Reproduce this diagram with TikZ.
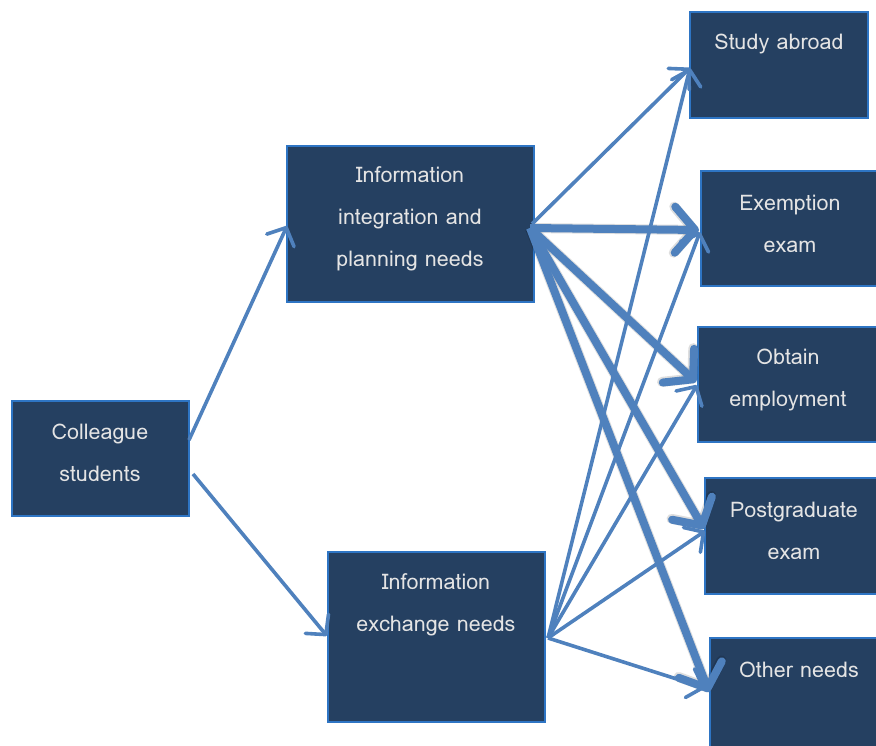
\documentclass[tikz,border=0pt]{standalone}
\usepackage{fontspec}
\setmainfont{Loma}
\usetikzlibrary{arrows.meta}
\definecolor{boxfill}{RGB}{37,64,97}
\definecolor{boxline}{RGB}{46,117,196}
\definecolor{arrowblue}{RGB}{79,129,189}
\definecolor{txtcol}{RGB}{228,228,228}
\begin{document}
\begin{tikzpicture}[x=1pt,y=-1pt,
  box/.style={draw=boxline, line width=1.2pt, fill=boxfill, inner sep=0pt},
  txt/.style={text=txtcol, align=center, font=\fontsize{21.5}{42}\selectfont, inner sep=0pt},
  thinarrow/.style={draw=arrowblue, line width=3.6pt,
    -{Straight Barb[length=14pt,width=30pt,line width=3.6pt,round]}},
  thickarrow/.style={draw=arrowblue, line width=8pt,
    -{Straight Barb[length=20pt,width=46pt,line width=8pt,round]}},
  shadowline/.style={draw=black, line width=10pt, opacity=0.13,
    -{Straight Barb[length=20pt,width=46pt,line width=10pt,round]}}]
\useasboundingbox (0,0) rectangle (876,746);

% boxes
\node[box, minimum width=177pt, minimum height=115pt] (coll)     at (100.5,458.5) {};
\node[box, minimum width=247pt, minimum height=156pt] (integ)    at (410.5,224) {};
\node[box, minimum width=217pt, minimum height=170pt] (exch)     at (436.5,637) {};
\node[box, minimum width=178pt, minimum height=106pt] (abroad)   at (779,65) {};
\node[box, minimum width=177pt, minimum height=115pt] (exempt)   at (789.5,228.5) {};
\node[box, minimum width=179pt, minimum height=115pt] (obtain)   at (787.5,384.5) {};
\node[box, minimum width=173pt, minimum height=116pt] (postgrad) at (791.5,536) {};
\node[box, minimum width=168pt, minimum height=112pt] (other)    at (794,694) {};

% labels
\node[txt] (tcoll)     at (100,453) {Colleague\\students};
\node[txt] (tinteg)    at (410,219) {Information\\integration and\\planning needs};
\node[txt] (texch)     at (436,605) {Information\\exchange needs};
\node[txt] (tabroad)   at (779,44)  {Study abroad};
\node[txt] (texempt)   at (790,224) {Exemption\\exam};
\node[txt] (tobtain)   at (788,380) {Obtain\\employment};
\node[txt] (tpostgrad) at (794,531) {Postgraduate\\exam};
\node[txt] (tother)    at (799,670) {Other needs};

% connector end points
\coordinate (c1) at (189,440);
\coordinate (c2) at (193,474);
\coordinate (i1) at (287,226);
\coordinate (x1) at (327,636);
\coordinate (is) at (532,224);
\coordinate (it) at (530,228);
\coordinate (xs) at (548,638);
\coordinate (a1) at (690,68);
\coordinate (e1) at (699,230);
\coordinate (e2) at (700,232);
\coordinate (o1) at (696,382);
\coordinate (o2) at (697,385);
\coordinate (p1) at (704,529);
\coordinate (p2) at (705,531);
\coordinate (n1) at (709,692);
\coordinate (n2) at (705,688);

% first level
\draw[thinarrow] (c1) -- (i1);
\draw[thinarrow] (c2) -- (x1);

% soft shadows of the heavy connectors
\begin{scope}[shift={(3,5)}]
  \draw[shadowline] (it) -- (e1);
  \draw[shadowline] (it) -- (o1);
  \draw[shadowline] (it) -- (p1);
  \draw[shadowline] (it) -- (n1);
\end{scope}

% from integration and planning needs
\draw[thinarrow] (is) -- (a1);
\draw[thickarrow] (it) -- (e1);
\draw[thickarrow] (it) -- (o1);
\draw[thickarrow] (it) -- (p1);
\draw[thickarrow] (it) -- (n1);

% from exchange needs
\draw[thinarrow] (xs) -- (a1);
\draw[thinarrow] (xs) -- (e2);
\draw[thinarrow] (xs) -- (o2);
\draw[thinarrow] (xs) -- (p2);
\draw[thinarrow] (xs) -- (n2);
\end{tikzpicture}
\end{document}
